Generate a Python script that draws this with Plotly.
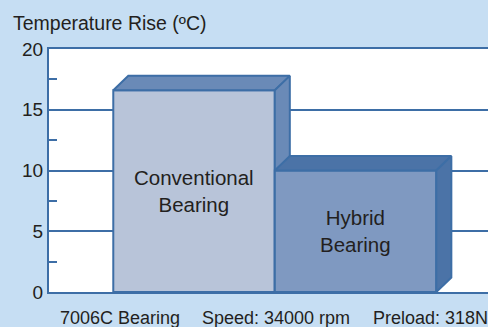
import plotly.graph_objects as go

# Data
bearings = ["Conventional<br>Bearing", "Hybrid<br>Bearing"]
temp_rise = [16.6, 10.0]
y_ticks = [0, 5, 10, 15, 20]
y_minor = [2.5, 7.5, 12.5, 17.5]
notes = ["7006C Bearing", "Speed: 34000 rpm", "Preload: 318N"]
note_pos = [0.0205, 0.344, 0.7335]

# Styling
front_colors = ["#B8C4D9", "#7F99C1"]
depth_colors = ["#6A8AB7", "#4B73A7"]
edge = "#3D6EA6"
bg = "#C6DEF3"
ink = "#231F20"
FONT = "Liberation Sans, Arial, sans-serif"

BAR_W = 1.0   # columns touch each other
DX = 0.093    # depth offset along x (category units)
DY = 1.19     # depth offset along y (deg C)

fig = go.Figure()


def face(xs, ys, color):
    fig.add_trace(go.Scatter(
        x=xs, y=ys, mode="lines", fill="toself", fillcolor=color,
        line=dict(color=edge, width=2), hoverinfo="skip", showlegend=False,
    ))


for i, (name, v) in enumerate(zip(bearings, temp_rise)):
    x0, x1 = i - BAR_W / 2, i + BAR_W / 2
    # front face
    face([x0, x0, x1, x1, x0], [0, v, v, 0, 0], front_colors[i])
    # top face
    face([x0, x0 + DX, x1 + DX, x1, x0], [v, v + DY, v + DY, v, v], depth_colors[i])
    # side face
    face([x1, x1 + DX, x1 + DX, x1, x1], [0, DY, v + DY, v, 0], depth_colors[i])
    fig.add_annotation(x=i, y=v / 2, text=name, showarrow=False,
                       font=dict(family=FONT, size=20.5, color=ink))

for txt, px in zip(notes, note_pos):
    fig.add_annotation(xref="paper", yref="paper", x=px, y=-0.106,
                       xanchor="left", yanchor="middle", text=txt, showarrow=False,
                       font=dict(family=FONT, size=18, color=ink))

fig.update_layout(
    width=488, height=327,
    margin=dict(l=49, r=0, t=49, b=35),
    paper_bgcolor=bg, plot_bgcolor="white",
    title=dict(text="Temperature Rise (ºC)", xref="container", yref="container",
               x=13 / 488, xanchor="left", y=1 - 23 / 327, yanchor="middle",
               font=dict(family=FONT, size=19.5, color=ink)),
    xaxis=dict(range=[-0.898, 1.82], showgrid=False, showticklabels=False,
               zeroline=False, showline=True, linecolor=edge, linewidth=2,
               mirror=True, ticks=""),
    yaxis=dict(range=[0, 20], tickvals=y_ticks, showgrid=True, gridcolor=edge,
               gridwidth=1.5, zeroline=False, showline=True, linecolor=edge,
               linewidth=2, ticks="",
               tickfont=dict(family=FONT, size=19, color=ink),
               minor=dict(tickvals=y_minor, ticks="inside", ticklen=8,
                          tickwidth=2, tickcolor=edge, showgrid=False)),
)

fig.write_html("out.html")
